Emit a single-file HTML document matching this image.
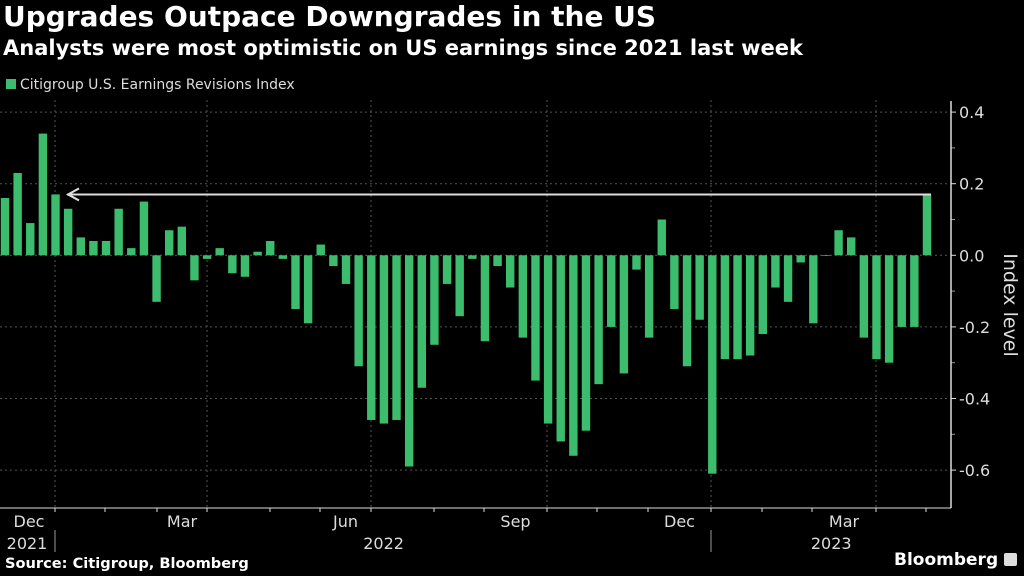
<!DOCTYPE html>
<html><head><meta charset="utf-8"><style>
html,body{margin:0;padding:0;background:#000;}
body{width:1024px;height:576px;overflow:hidden;font-family:"DejaVu Sans","Liberation Sans",sans-serif;color:#fff;position:relative;}
.t{position:absolute;white-space:nowrap;}
</style></head><body>
<div class="t" style="left:3px;top:0px;font-size:28px;font-weight:bold;">Upgrades Outpace Downgrades in the US</div>
<div class="t" style="left:3px;top:36px;font-size:21px;font-weight:bold;">Analysts were most optimistic on US earnings since 2021 last week</div>
<div class="t" style="left:6px;top:77px;font-size:14px;color:#ddd;"><span style="display:inline-block;width:10px;height:10px;background:#3cbd6d;margin-right:4px;"></span>Citigroup U.S. Earnings Revisions Index</div>
<div class="t" style="left:5px;top:555px;font-size:14.6px;font-weight:bold;">Source: Citigroup, Bloomberg</div>
<div class="t" style="left:894px;top:550px;font-size:17px;font-weight:bold;">Bloomberg <span style="display:inline-block;width:13px;height:13px;background:#ddd;border-radius:2px;vertical-align:-1px;"></span></div>
<svg id="chart" width="1024" height="576" style="position:absolute;left:0;top:0;"></svg>
<script>
const values=[0.16,0.23,0.09,0.34,0.17,0.13,0.05,0.04,0.04,0.13,0.02,0.15,-0.13,0.07,0.08,-0.07,-0.01,0.02,-0.05,-0.06,0.01,0.04,-0.01,-0.15,-0.19,0.03,-0.03,-0.08,-0.31,-0.46,-0.47,-0.46,-0.59,-0.37,-0.25,-0.08,-0.17,-0.01,-0.24,-0.03,-0.09,-0.23,-0.35,-0.47,-0.52,-0.56,-0.49,-0.36,-0.2,-0.33,-0.04,-0.23,0.1,-0.15,-0.31,-0.18,-0.61,-0.29,-0.29,-0.28,-0.22,-0.09,-0.13,-0.02,-0.19,-0.002,0.07,0.05,-0.23,-0.29,-0.3,-0.2,-0.2,0.17];
const yTicks=[0.4,0.2,0.0,-0.2,-0.4,-0.6];
const yTickLabels=["0.4","0.2","0.0","-0.2","-0.4","-0.6"];
const monthLabels=["Dec","Mar","Jun","Sep","Dec","Mar"];
const monthLabelIdx=[0.5,3.5,6.5,9.5,12.5,15.5];
const yearLabels=["2021","2022","2023"];
const yearLabelIdx=[0.5,7.2,15.3];
const NS="http://www.w3.org/2000/svg";
const svg=document.getElementById('chart');
const y=v=>255.3-v*358;
const x=i=>5+i*12.63;
const mt=[55,105,157,207,270,320,371,434,484,547,597,648,711,762,812,876,926];
const mx=k=>{const i=Math.floor(k);const f=k-i;const a=mt[Math.min(i,mt.length-1)];const b=mt[Math.min(i+1,mt.length-1)];return a+(b-a)*f;};
function el(t,a){const e=document.createElementNS(NS,t);for(const k in a)e.setAttribute(k,a[k]);svg.appendChild(e);return e;}
yTicks.forEach((v,i)=>{
 const g=el('line',{x1:0,x2:950,y1:y(v),y2:y(v),stroke:'#555','stroke-dasharray':'2,3','stroke-width':1});
 
 
 const tk=el('line',{x1:951,x2:956,y1:y(v),y2:y(v),stroke:'#ddd'});
 
 
 const t=el('text',{x:959,y:y(v)+6,fill:'#ddd','font-size':16,'font-family':'DejaVu Sans, Liberation Sans, sans-serif'});
 t.textContent=yTickLabels[i];
 
 
});
for(let i=0;i<yTicks.length-1;i++){const m=el('line',{x1:951,x2:955,y1:y((yTicks[i]+yTicks[i+1])/2),y2:y((yTicks[i]+yTicks[i+1])/2),stroke:'#999'});}
[0,3,6,9,12,15].forEach(k=>{const g=el('line',{x1:mt[k],x2:mt[k],y1:100,y2:508,stroke:'#555','stroke-dasharray':'2,3'});});
values.forEach((v,i)=>{
 const top=Math.min(y(v),y(0)),h=Math.max(Math.abs(y(v)-y(0)),0.6);
 const b=el('rect',{x:x(i)-4.2,y:top,width:8.4,height:h,fill:'#3cbd6d'});
 
 
});
const last=values[values.length-1];
const ay=y(last);
const al=el('line',{x1:67,x2:x(values.length-1)+4,y1:ay,y2:ay,stroke:'#ddd','stroke-width':2});


const ah=el('polyline',{points:`79,${ay-6} 68,${ay} 79,${ay+6}`,fill:'none',stroke:'#ddd','stroke-width':2});


const ya=el('line',{x1:951,x2:951,y1:101,y2:508,stroke:'#ddd','stroke-width':1.5});


const xa=el('line',{x1:0,x2:951,y1:508,y2:508,stroke:'#ddd','stroke-width':1});


mt.forEach(p=>{const t=el('line',{x1:p,x2:p,y1:508,y2:512,stroke:'#ddd'});});
monthLabels.forEach((l,i)=>{
 const k=monthLabelIdx[i];const px=k<1?29:mx(k-1);
 const t=el('text',{x:px,y:527,fill:'#ddd','font-size':16,'text-anchor':'middle','font-family':'DejaVu Sans, Liberation Sans, sans-serif'});
 t.textContent=l;
 
 
});
yearLabels.forEach((l,i)=>{
 const k=yearLabelIdx[i];const px=k<1?27:mx(k-1);
 const t=el('text',{x:px,y:549,fill:'#ddd','font-size':16,'text-anchor':'middle','font-family':'DejaVu Sans, Liberation Sans, sans-serif'});
 t.textContent=l;
 
 
});
[55,711].forEach(p=>{const s=el('line',{x1:p,x2:p,y1:530,y2:552,stroke:'#999'});});
const yt=el('text',{x:0,y:0,fill:'#ddd','font-size':19,'text-anchor':'middle','font-family':'DejaVu Sans, Liberation Sans, sans-serif',transform:'translate(1004,305) rotate(90)'});
yt.textContent='Index level';


</script>
</body></html>
